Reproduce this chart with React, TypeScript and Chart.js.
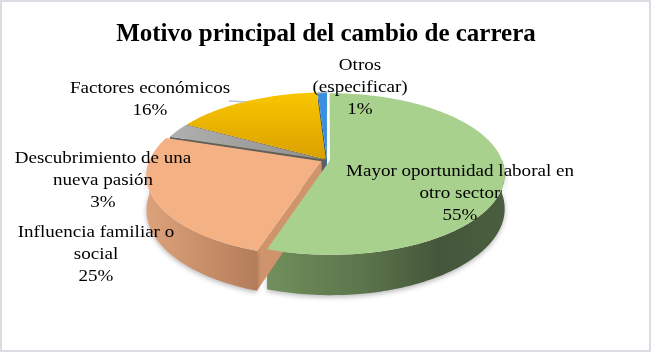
import React, { useEffect, useRef } from 'react';
import { Chart, registerables } from 'chart.js';

Chart.register(...registerables);

// ---------- data ----------
const TITLE = 'Motivo principal del cambio de carrera';
const categories = [
  'Mayor oportunidad laboral en otro sector',
  'Influencia familiar o social',
  'Descubrimiento de una nueva pasión',
  'Factores económicos',
  'Otros (especificar)',
];
const values = [55, 25, 3, 16, 1];
const labelLines = [
  ['Mayor oportunidad laboral en', 'otro sector'],
  ['Influencia familiar o', 'social'],
  ['Descubrimiento de una', 'nueva pasión'],
  ['Factores económicos'],
  ['Otros', '(especificar)'],
];

// ---------- styles / layout ----------
const W = 652;
const H = 354;
const SERIF = '"Liberation Serif", "Times New Roman", serif';
const topColors = ['#a9d18e', '#f4b183', '#a5a5a5', '#ffc000', '#3a8ede'];
const faceColors = ['#7e9c68', '#cf946b', '#5e5e5e', '#8a6a00', '#1d5a96'];
const wallStops: [number, string][][] = [
  [[0, '#718f5c'], [0.4, '#5c754c'], [0.72, '#45573b'], [1, '#4a5e3f']],
  [[0, '#dba27b'], [0.5, '#c98f69'], [1, '#b37d5b']],
  [[0, '#8a8a8a'], [1, '#6a6a6a']],
  [[0, '#c99700'], [1, '#a57c00']],
  [[0, '#2c6fb0'], [1, '#1f5a96']],
];
// pseudo-3D projection of the pie disc
const CX = 327;
const CY = 160;
const RX = 172;
const RY = 78.4;
const PERSP = 0.17;
const DEPTH = 33.5;
const EXPLODE = [3, 6, 2, 2, 3]; // px of radius
const LABEL_POS = [
  [460, 172],
  [96, 233],
  [103, 159],
  [150, 89],
  [360, 66],
];
const LINE_H = 22;
const LABEL_SIZE = 17;
const TEXT_STRETCH = 1.12;
const LEADERS: (number[][] | null)[] = [
  null,
  null,
  null,
  [[229, 101], [246, 102]],
  [[317, 93], [335, 91]],
];

function proj(u: number, v: number, z: number): [number, number] {
  const s = 1 / (1 - PERSP * v);
  return [CX + RX * u * s, CY + RY * v * s + DEPTH * z * s];
}

const pie3d = {
  id: 'pie3d',
  beforeDraw(chart: any) {
    const ctx: CanvasRenderingContext2D = chart.ctx;
    ctx.save();
    ctx.fillStyle = '#ffffff';
    ctx.fillRect(0, 0, W, H);
    ctx.strokeStyle = '#dadee3';
    ctx.lineWidth = 2;
    ctx.strokeRect(1, 1, W - 3, H - 4);
    ctx.restore();
  },
  beforeDatasetsDraw(chart: any) {
    const ctx: CanvasRenderingContext2D = chart.ctx;
    const arcs = chart.getDatasetMeta(0).data as any[];
    const geo = arcs.map((a: any, i: number) => {
      const p = a.getProps(['startAngle', 'endAngle', 'outerRadius'], true);
      const mid = (p.startAngle + p.endAngle) / 2;
      const e = EXPLODE[i] / RX;
      // unit disc coordinates: radius 1 == outerRadius of the Chart.js arc
      return {
        s: p.startAngle,
        e: p.endAngle,
        r: p.outerRadius / p.outerRadius,
        ou: e * Math.cos(mid),
        ov: e * Math.sin(mid),
      };
    });

    const rim = (g: any, th: number, z: number) =>
      proj(g.ou + g.r * Math.cos(th), g.ov + g.r * Math.sin(th), z);
    const apex = (g: any, z: number) => proj(g.ou, g.ov, z);

    const arcPath = (g: any, a0: number, a1: number, z: number, first: boolean) => {
      const n = Math.max(4, Math.ceil(Math.abs(a1 - a0) / 0.02));
      for (let k = 0; k <= n; k++) {
        const th = a0 + ((a1 - a0) * k) / n;
        const [x, y] = rim(g, th, z);
        if (first && k === 0) ctx.moveTo(x, y);
        else ctx.lineTo(x, y);
      }
    };

    ctx.save();
    const order = geo.map((_: any, i: number) => i).sort((a: number, b: number) => {
      const ma = (geo[a].s + geo[a].e) / 2;
      const mb = (geo[b].s + geo[b].e) / 2;
      return Math.sin(ma) - Math.sin(mb);
    });

    const face = (g: any, th: number, color: string) => {
      const [ax, ay] = apex(g, 0);
      const [bx, by] = apex(g, 1);
      const [px, py] = rim(g, th, 0);
      const [qx, qy] = rim(g, th, 1);
      ctx.beginPath();
      ctx.moveTo(ax, ay);
      ctx.lineTo(px, py);
      ctx.lineTo(qx, qy);
      ctx.lineTo(bx, by);
      ctx.closePath();
      ctx.fillStyle = color;
      ctx.fill();
    };

    order.forEach((i: number) => {
      const g = geo[i];
      if (-Math.cos(g.s) > 0.001) face(g, g.s, faceColors[i]);
      if (Math.cos(g.e) > 0.001) face(g, g.e, faceColors[i]);
      const a0 = Math.max(g.s, 0);
      const a1 = Math.min(g.e, Math.PI);
      if (a1 > a0) {
        let xmin = Infinity;
        let xmax = -Infinity;
        for (let k = 0; k <= 40; k++) {
          const [x] = rim(g, a0 + ((a1 - a0) * k) / 40, 0);
          xmin = Math.min(xmin, x);
          xmax = Math.max(xmax, x);
        }
        const grad = ctx.createLinearGradient(xmin, 0, xmax, 0);
        wallStops[i].forEach(([o, c]) => grad.addColorStop(o, c));
        ctx.save();
        ctx.shadowColor = 'rgba(0,0,0,0.28)';
        ctx.shadowBlur = 5;
        ctx.shadowOffsetY = 2;
        ctx.beginPath();
        arcPath(g, a0, a1, 0, true);
        arcPath(g, a1, a0, 1, false);
        ctx.closePath();
        ctx.fillStyle = grad;
        ctx.fill();
        ctx.restore();
      }
    });

    // tops
    geo.forEach((g: any, i: number) => {
      const [ax, ay] = apex(g, 0);
      ctx.beginPath();
      ctx.moveTo(ax, ay);
      arcPath(g, g.s, g.e, 0, false);
      ctx.closePath();
      let fill: any = topColors[i];
      if (i === 3) {
        const gr = ctx.createLinearGradient(0, CY - RY, 0, CY);
        gr.addColorStop(0, '#ffcc00');
        gr.addColorStop(1, '#d9a000');
        fill = gr;
      } else if (i === 2) {
        const gr = ctx.createLinearGradient(CX - RX, 0, CX, 0);
        gr.addColorStop(0, '#b3b3b3');
        gr.addColorStop(1, '#8e8e8e');
        fill = gr;
      }
      ctx.fillStyle = fill;
      ctx.fill();
    });
    ctx.restore();
    return false;
  },
  afterDraw(chart: any) {
    const ctx: CanvasRenderingContext2D = chart.ctx;
    const total = values.reduce((a, b) => a + b, 0);
    ctx.save();
    ctx.strokeStyle = '#b4c3d3';
    ctx.lineWidth = 1.5;
    LEADERS.forEach((l) => {
      if (!l) return;
      ctx.beginPath();
      ctx.moveTo(l[0][0], l[0][1]);
      ctx.lineTo(l[1][0], l[1][1]);
      ctx.stroke();
    });
    ctx.fillStyle = '#000000';
    ctx.font = `${LABEL_SIZE}px ${SERIF}`;
    ctx.textAlign = 'center';
    ctx.textBaseline = 'middle';
    labelLines.forEach((lines, i) => {
      const all = [...lines, `${Math.round((values[i] / total) * 100)}%`];
      const [x, y] = LABEL_POS[i];
      all.forEach((t, k) => {
        ctx.save();
        ctx.translate(x, y + k * LINE_H);
        ctx.scale(TEXT_STRETCH, 1);
        ctx.fillText(t, 0, 0);
        ctx.restore();
      });
    });
    ctx.restore();
  },
};

export default function App() {
  const ref = useRef<HTMLCanvasElement>(null);
  useEffect(() => {
    document.body.style.margin = '0';
    const chart = new Chart(ref.current as HTMLCanvasElement, {
      type: 'pie',
      data: {
        labels: categories,
        datasets: [
          {
            data: values,
            backgroundColor: topColors,
            borderWidth: 0,
          },
        ],
      },
      options: {
        responsive: false,
        animation: false,
        events: [],
        plugins: {
          legend: { display: false },
          tooltip: { enabled: false },
          title: {
            display: true,
            text: TITLE,
            color: '#000000',
            font: { family: SERIF, size: 25, weight: 'bold' },
            padding: { top: 20, bottom: 10 },
          },
        },
      },
      plugins: [pie3d as any],
    });
    return () => chart.destroy();
  }, []);
  return (
    <div style={{ width: W, height: H }}>
      <canvas ref={ref} width={W} height={H} style={{ display: 'block', width: W, height: H }} />
    </div>
  );
}
